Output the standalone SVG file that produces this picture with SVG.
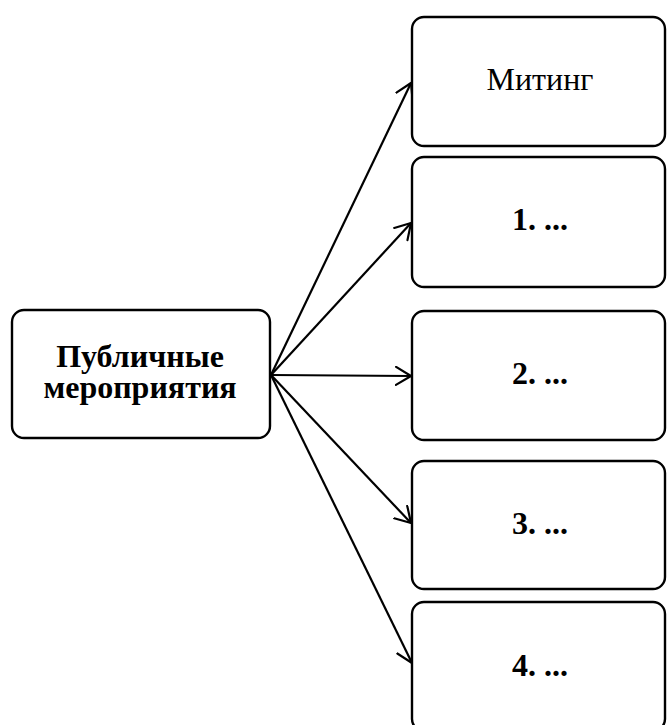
<svg xmlns="http://www.w3.org/2000/svg" width="667" height="725" viewBox="0 0 667 725">
<defs>
<style>
.box{fill:#fff;stroke:#000;stroke-width:2.4}
.t{font-family:"Liberation Serif","Times New Roman",serif;font-size:32px;text-anchor:middle;fill:#000}
.b{font-weight:bold}
.c{stroke:#000;stroke-width:2.2;fill:none}
</style>
<marker id="ah" markerWidth="20" markerHeight="22" refX="16" refY="10" orient="auto" markerUnits="userSpaceOnUse">
<path d="M1,1 L16,10 L1,19" fill="none" stroke="#000" stroke-width="2.2" stroke-linecap="round" stroke-linejoin="round"/>
</marker>
</defs>
<g id="connectors">
<line class="c" x1="271" y1="375" x2="411" y2="83" marker-end="url(#ah)"/>
<line class="c" x1="271" y1="375" x2="411" y2="223" marker-end="url(#ah)"/>
<line class="c" x1="271" y1="375" x2="411" y2="376" marker-end="url(#ah)"/>
<line class="c" x1="271" y1="375" x2="411" y2="523" marker-end="url(#ah)"/>
<line class="c" x1="271" y1="375" x2="412" y2="663" marker-end="url(#ah)"/>
</g>
<g id="node-public">
<rect class="box" x="12" y="310" width="258" height="128" rx="12"/>
<text class="t b" x="140" y="367">Публичные</text>
<text class="t b" x="140" y="398">мероприятия</text>
</g>
<g id="node-miting">
<rect class="box" x="412" y="17" width="253" height="129" rx="12"/>
<text class="t" x="540" y="90">Митинг</text>
</g>
<g id="node-1">
<rect class="box" x="412" y="157" width="253" height="130" rx="12"/>
<text class="t b" x="540" y="230">1. ...</text>
</g>
<g id="node-2">
<rect class="box" x="412" y="311" width="253" height="129" rx="12"/>
<text class="t b" x="540" y="384">2. ...</text>
</g>
<g id="node-3">
<rect class="box" x="412" y="461" width="253" height="128" rx="12"/>
<text class="t b" x="540" y="534">3. ...</text>
</g>
<g id="node-4">
<rect class="box" x="412" y="602" width="253" height="129" rx="12"/>
<text class="t b" x="540" y="676">4. ...</text>
</g>
</svg>
